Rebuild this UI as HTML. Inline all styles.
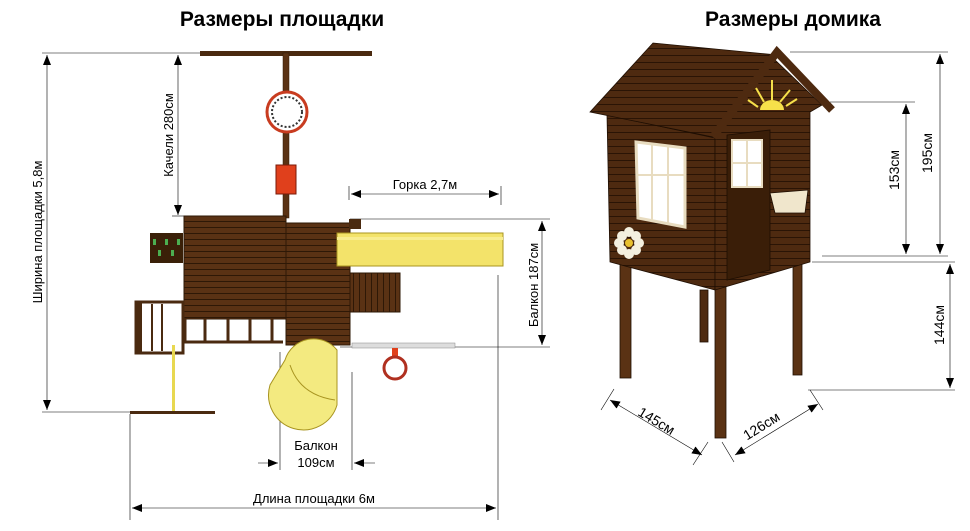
<!DOCTYPE html>
<html><head><meta charset="utf-8"><style>
body{margin:0;background:#fff}
svg{display:block;font-family:"Liberation Sans","DejaVu Sans",sans-serif}
</style></head><body>
<svg width="970" height="531" viewBox="0 0 970 531" xmlns="http://www.w3.org/2000/svg">
<defs>
<marker id="a" markerWidth="10" markerHeight="8" refX="10" refY="4" orient="auto-start-reverse" markerUnits="userSpaceOnUse"><path d="M0,0 L10,4 L0,8 Z" fill="#000"/></marker>
<pattern id="pl" width="8" height="6" patternUnits="userSpaceOnUse"><rect width="8" height="6" fill="#5a3214"/><rect y="5" width="8" height="1" fill="#2e1806"/></pattern>
<pattern id="pv" width="6" height="8" patternUnits="userSpaceOnUse"><rect width="6" height="8" fill="#5a3214"/><rect x="5" width="1" height="8" fill="#2e1806"/></pattern>
<pattern id="hw" width="8" height="7" patternUnits="userSpaceOnUse"><rect width="8" height="7" fill="#4e2a10"/><rect y="6" width="8" height="1" fill="#2a1405"/></pattern>
</defs>
<text x="282" y="26" font-size="21" font-weight="bold" text-anchor="middle">Размеры площадки</text>
<text x="793" y="26" font-size="21" font-weight="bold" text-anchor="middle">Размеры домика</text>

<!-- playground -->
<g stroke="#000" stroke-width="0.6" fill="none">
<line x1="42" y1="53" x2="200" y2="53"/><line x1="42" y1="412" x2="130" y2="412"/>
<line x1="47" y1="55" x2="47" y2="410" marker-start="url(#a)" marker-end="url(#a)"/>
<line x1="178" y1="55" x2="178" y2="215" marker-start="url(#a)" marker-end="url(#a)"/>
<line x1="172" y1="216" x2="186" y2="216"/>
<line x1="349" y1="186" x2="349" y2="200"/><line x1="501" y1="186" x2="501" y2="205"/>
<line x1="351" y1="194" x2="499" y2="194" marker-start="url(#a)" marker-end="url(#a)"/>
<line x1="350" y1="219" x2="550" y2="219"/><line x1="340" y1="347" x2="550" y2="347"/>
<line x1="542" y1="221" x2="542" y2="345" marker-start="url(#a)" marker-end="url(#a)"/>
<line x1="498" y1="275" x2="498" y2="520"/>
<line x1="280" y1="352" x2="280" y2="470"/><line x1="352" y1="372" x2="352" y2="470"/>
<line x1="258" y1="463" x2="278" y2="463" marker-end="url(#a)"/><line x1="375" y1="463" x2="354" y2="463" marker-end="url(#a)"/>
<line x1="130" y1="414" x2="130" y2="520"/>
<line x1="132" y1="508" x2="496" y2="508" marker-start="url(#a)" marker-end="url(#a)"/>
</g>
<text transform="translate(42,232) rotate(-90)" font-size="13" text-anchor="middle">Ширина площадки 5,8м</text>
<text transform="translate(173,135) rotate(-90)" font-size="13" text-anchor="middle">Качели 280см</text>
<text x="425" y="189" font-size="13" text-anchor="middle">Горка 2,7м</text>
<text transform="translate(538,285) rotate(-90)" font-size="13" text-anchor="middle">Балкон 187см</text>
<text x="316" y="450" font-size="13" text-anchor="middle">Балкон</text>
<text x="316" y="467" font-size="13" text-anchor="middle">109см</text>
<text x="314" y="503" font-size="13" text-anchor="middle">Длина площадки 6м</text>

<rect x="200" y="51" width="172" height="5" fill="#4a2a10"/>
<rect x="283" y="53" width="6" height="165" fill="#5a3214" stroke="#2e1806" stroke-width="0.5"/>
<circle cx="287" cy="112" r="20" fill="#fff" stroke="#c83c20" stroke-width="3"/>
<circle cx="287" cy="112" r="15" fill="none" stroke="#333" stroke-width="2" stroke-dasharray="2 2"/>
<rect x="276" y="165" width="20" height="29" fill="#e0401c" stroke="#7a1a08"/>
<rect x="150" y="233" width="33" height="30" fill="#3a2008"/>
<g fill="#4caf50"><rect x="153" y="239" width="3" height="6"/><rect x="165" y="239" width="3" height="6"/><rect x="177" y="239" width="3" height="6"/><rect x="158" y="250" width="3" height="6"/><rect x="171" y="250" width="3" height="6"/></g>
<rect x="184" y="216" width="102" height="103" fill="url(#pl)" stroke="#2e1806"/>
<rect x="286" y="223" width="64" height="122" fill="url(#pl)" stroke="#2e1806"/>
<rect x="349" y="219" width="12" height="10" fill="#4a2a10"/>
<rect x="337" y="233" width="166" height="33" fill="#f3e36a" stroke="#a89420"/>
<rect x="337" y="237" width="166" height="3" fill="#f8ed90"/>
<rect x="350" y="273" width="50" height="39" fill="url(#pv)" stroke="#2e1806"/>
<rect x="136" y="302" width="47" height="51" fill="none" stroke="#4a2a10" stroke-width="3"/>
<rect x="136" y="302" width="6" height="51" fill="#4a2a10"/>
<g stroke="#4a2a10" stroke-width="2"><line x1="152" y1="304" x2="152" y2="351"/><line x1="162" y1="304" x2="162" y2="351"/></g>
<g stroke="#4a2a10" stroke-width="3"><line x1="183" y1="342" x2="283" y2="342"/><line x1="185" y1="319" x2="185" y2="342"/><line x1="205" y1="319" x2="205" y2="342"/><line x1="228" y1="319" x2="228" y2="342"/><line x1="250" y1="319" x2="250" y2="342"/><line x1="272" y1="319" x2="272" y2="342"/></g>
<rect x="172" y="345" width="3" height="67" fill="#e8d850"/>
<rect x="130" y="411" width="85" height="3" fill="#4a2a10"/>
<rect x="352" y="343" width="103" height="5" fill="#ddd" stroke="#888" stroke-width="0.5"/>
<rect x="392" y="348" width="6" height="8" fill="#e0401c"/>
<circle cx="395" cy="368" r="11" fill="#fff" stroke="#b03020" stroke-width="3"/>
<path d="M285,360 A30,30 0 0 1 337,350 L337,405 A32,32 0 0 1 270,385 Z" fill="#f3ea80" stroke="#a89420"/>
<path d="M290,365 Q300,395 335,400" fill="none" stroke="#a89420"/>

<!-- house -->
<g stroke="#000" stroke-width="0.6" fill="none">
<line x1="790" y1="52" x2="948" y2="52"/><line x1="830" y1="102" x2="915" y2="102"/>
<line x1="822" y1="256" x2="948" y2="256"/><line x1="812" y1="262" x2="955" y2="262"/><line x1="808" y1="390" x2="955" y2="390"/>
<line x1="940" y1="54" x2="940" y2="254" marker-start="url(#a)" marker-end="url(#a)"/>
<line x1="906" y1="104" x2="906" y2="254" marker-start="url(#a)" marker-end="url(#a)"/>
<line x1="950" y1="264" x2="950" y2="388" marker-start="url(#a)" marker-end="url(#a)"/>
<line x1="601" y1="410" x2="614" y2="389"/><line x1="693" y1="465" x2="708" y2="442"/>
<line x1="610" y1="400" x2="702" y2="455" marker-start="url(#a)" marker-end="url(#a)"/>
<line x1="722" y1="442" x2="734" y2="462"/><line x1="810" y1="390" x2="823" y2="410"/>
<line x1="735" y1="455" x2="818" y2="404" marker-start="url(#a)" marker-end="url(#a)"/>
</g>
<text transform="translate(932,153) rotate(-90)" font-size="14" text-anchor="middle">195см</text>
<text transform="translate(899,170) rotate(-90)" font-size="14" text-anchor="middle">153см</text>
<text transform="translate(944,325) rotate(-90)" font-size="14" text-anchor="middle">144см</text>
<text transform="translate(654,425) rotate(31)" font-size="14" text-anchor="middle">145см</text>
<text transform="translate(764,430) rotate(-32)" font-size="14" text-anchor="middle">126см</text>

<g stroke="#1e0e02" stroke-width="0.8">
<rect x="700" y="290" width="8" height="52" fill="#4e2a10"/>
<rect x="620" y="255" width="11" height="123" fill="#5a3214"/>
<rect x="793" y="255" width="9" height="120" fill="#5a3214"/>
<rect x="715" y="285" width="11" height="153" fill="#5a3214"/>
<polygon points="607,115 715,138 715,290 610,262" fill="url(#hw)"/>
<polygon points="590,112 653,43 777,55 713,137" fill="url(#hw)"/>
<polygon points="715,135 775,60 822,105 810,112 810,262 715,290" fill="url(#hw)"/>
<polygon points="727,135 770,130 770,270 727,280" fill="#3a1e08"/>
<rect x="732" y="140" width="30" height="47" fill="#fff" stroke="#e8dcc0" stroke-width="2"/>
<path d="M747,140 V187 M732,163 H762" stroke="#e8dcc0" stroke-width="2"/>
<polyline points="713,137 777,52 832,110" fill="none" stroke="#4e2a10" stroke-width="8"/>
<polygon points="636,142 685,148 685,227 638,218" fill="#fff" stroke="#e8dcc0" stroke-width="3"/>
<path d="M652,144 V222 M668,146 V224 M637,175 H685" stroke="#e8dcc0" stroke-width="2"/>
<polygon points="770,193 808,190 805,213 775,213" fill="#f0e6cc"/>
</g>
<path d="M760,110 A12,10 0 0 1 784,110 Z" fill="#f6e04a"/>
<g stroke="#f6e04a" stroke-width="2"><line x1="772" y1="100" x2="772" y2="80"/><line x1="764" y1="102" x2="756" y2="88"/><line x1="780" y1="102" x2="790" y2="90"/><line x1="758" y1="107" x2="748" y2="100"/><line x1="786" y1="106" x2="797" y2="99"/></g>
<g fill="#f4f0e0"><circle cx="622" cy="236" r="5"/><circle cx="636" cy="236" r="5"/><circle cx="622" cy="250" r="5"/><circle cx="636" cy="250" r="5"/><circle cx="629" cy="232" r="5"/><circle cx="629" cy="254" r="5"/><circle cx="619" cy="243" r="5"/><circle cx="639" cy="243" r="5"/></g>
<circle cx="629" cy="243" r="4" fill="#e8c030"/>
</svg>
</body></html>
